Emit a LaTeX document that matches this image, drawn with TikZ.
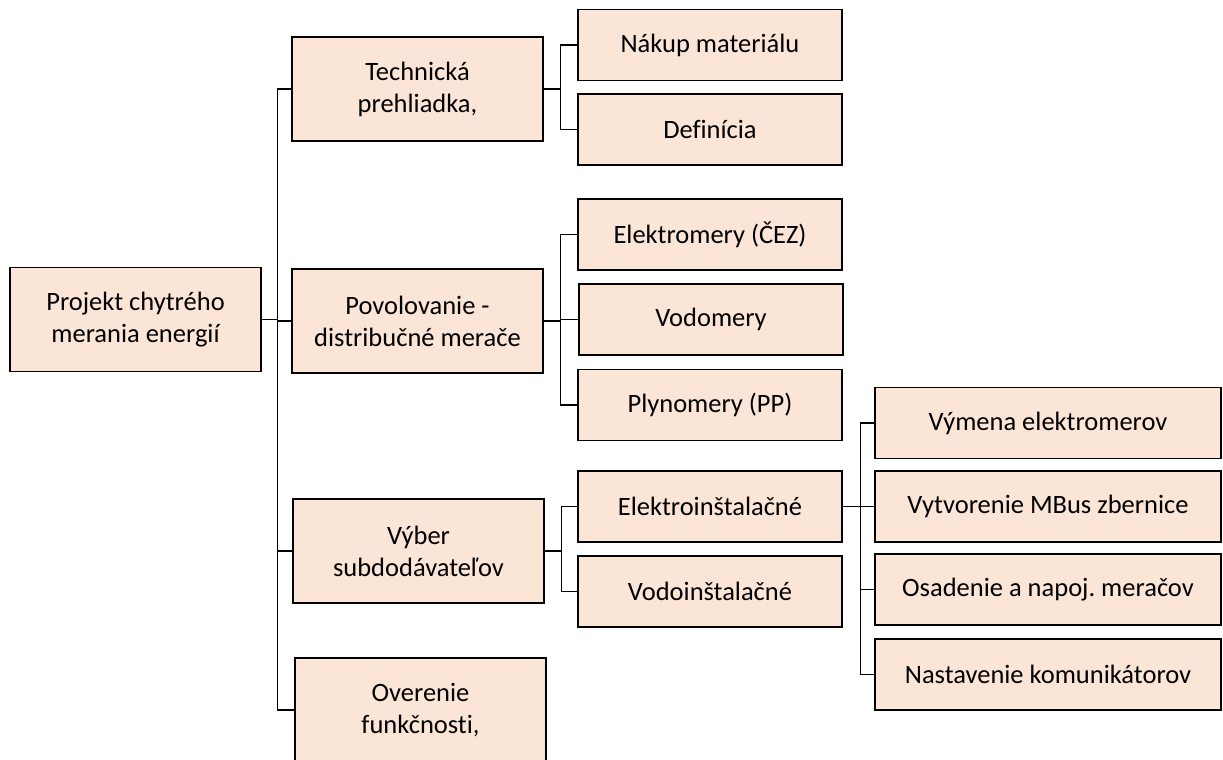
\documentclass[tikz,border=0pt]{standalone}
\usepackage{fontspec}
\setmainfont[Ligatures=NoCommon]{Carlito}
\usepackage{tikz}
\usetikzlibrary{positioning}
\definecolor{boxfill}{HTML}{FBE5D6}
\frenchspacing
\tikzset{
  wbsbox/.style={draw, line width=1.3pt, fill=boxfill, align=center, inner sep=0pt,
    font=\fontsize{26.5}{32}\selectfont},
  topbox/.style={wbsbox, minimum width=251pt, minimum height=104pt},
  subbox/.style={wbsbox, minimum width=264pt, minimum height=71pt},
  leafbox/.style={wbsbox, minimum width=346pt, minimum height=71pt},
  link/.style={line width=1.3pt},
}

\begin{document}
\begin{tikzpicture}[x=1pt,y=-1pt]
\useasboundingbox (0,0) rectangle (1223,760);
% root and first level
\node[topbox] (root) at (135.5,319.5) {Projekt chytrého\\merania energií};
\node[topbox] (tech) at (417.5,89) {Technická\\prehliadka,};
\node[topbox] (povol) at (417.5,321) {Povolovanie -\\distribučné merače};
\node[topbox] (vyber) at (418.5,551) {Výber\\subdodávateľov};
\node[topbox] (over) at (420.5,710) {Overenie\\funkčnosti,};
% second level
\node[subbox] (nakup) at (710,45) {Nákup materiálu};
\node[subbox] (defin) at (710,129.5) {Definícia};
\node[subbox] (elmer) at (710,234.5) {Elektromery (ČEZ)};
\node[subbox] (vodmer) at (711,319.5) {Vodomery};
\node[subbox] (plyn) at (710,405) {Plynomery (PP)};
\node[subbox] (elinst) at (710,506.5) {Elektroinštalačné};
\node[subbox] (voinst) at (710,591.5) {Vodoinštalačné};
% third level
\node[leafbox] (vymena) at (1048,423) {Výmena elektromerov};
\node[leafbox] (mbus) at (1048,506.5) {Vytvorenie MBus zbernice};
\node[leafbox] (osad) at (1048,589.5) {Osadenie a napoj. meračov};
\node[leafbox] (nastav) at (1048,674.5) {Nastavenie komunikátorov};
% connectors
\foreach \c in {tech,povol,vyber,over}
  \draw[link] (root.east) -- ++(16,0) |- (\c.west);
\foreach \c in {nakup,defin}
  \draw[link] (tech.east) -- ++(17,0) |- (\c.west);
\foreach \c in {elmer,vodmer,plyn}
  \draw[link] (povol.east) -- ++(17,0) |- (\c.west);
\foreach \c in {elinst,voinst}
  \draw[link] (vyber.east) -- ++(17,0) |- (\c.west);
\foreach \c in {vymena,mbus,osad,nastav}
  \draw[link] (elinst.east) -- ++(18,0) |- (\c.west);
\end{tikzpicture}
\end{document}
